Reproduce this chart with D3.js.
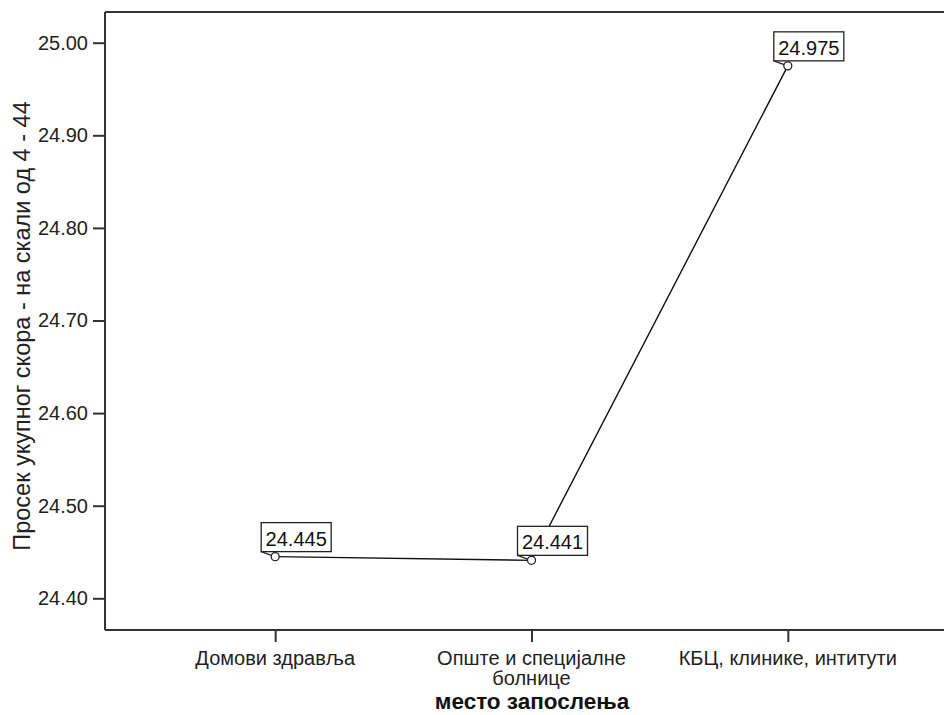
<!DOCTYPE html>
<html>
<head>
<meta charset="utf-8">
<script src="https://cdn.jsdelivr.net/npm/d3@7"></script>
<style>
  html, body { margin: 0; padding: 0; background: #fff; }
  svg { display: block; font-family: "Liberation Sans", Arial, sans-serif; }
</style>
</head>
<body>
<svg id="chart" width="944" height="715"></svg>
<script>
// Mean total score by workplace
const categories = [
  ["Домови здравља"],
  ["Опште и специјалне", "болнице"],
  ["КБЦ, клинике, интитути"]
];
const means = [24.445, 24.441, 24.975];
const yTicks = [24.40, 24.50, 24.60, 24.70, 24.80, 24.90, 25.00];
const yTitle = "Просек укупног скора - на скали од 4 - 44";
const xTitle = "место запослења";

const svg = d3.select("#chart");
const plotLeft = 105, plotTop = 12, plotRight = 958, plotBottom = 630;
const axisColor = "#333";

const keys = categories.map(c => c.join(" "));
const x = d3.scalePoint().domain(keys).range([plotLeft, plotRight]).padding(0.664);
const y = d3.scaleLinear().domain([24.40, 25.00]).range([598.3, 42.7]);

// frame: top border
svg.append("line")
  .attr("x1", plotLeft).attr("x2", 944).attr("y1", plotTop).attr("y2", plotTop)
  .attr("stroke", axisColor).attr("stroke-width", 2);

// y axis
const yAxis = svg.append("g")
  .attr("transform", `translate(${plotLeft},0)`)
  .call(d3.axisLeft(y).tickValues(yTicks).tickFormat(d3.format(".2f"))
    .tickSize(12).tickPadding(5).tickSizeOuter(0));
yAxis.select(".domain").remove();
yAxis.append("line").attr("x1", 0).attr("x2", 0).attr("y1", plotTop).attr("y2", plotBottom)
  .attr("stroke", axisColor).attr("stroke-width", 2);
yAxis.selectAll(".tick line").attr("stroke", axisColor).attr("stroke-width", 2);
yAxis.selectAll(".tick text").attr("fill", "#222").style("font-size", "20px");

// x axis
const xAxis = svg.append("g")
  .attr("transform", `translate(0,${plotBottom})`)
  .call(d3.axisBottom(x).tickSize(12).tickSizeOuter(0).tickFormat(() => ""));
xAxis.select(".domain").remove();
xAxis.append("line").attr("x1", plotLeft).attr("x2", 944).attr("y1", 0).attr("y2", 0)
  .attr("stroke", axisColor).attr("stroke-width", 2);
xAxis.selectAll(".tick line").attr("stroke", axisColor).attr("stroke-width", 2);
xAxis.selectAll(".tick text").remove();
// category labels, one text per line
categories.forEach((lines, i) => {
  lines.forEach((ln, j) => {
    xAxis.append("text")
      .attr("x", x(keys[i])).attr("y", 35 + j * 20)
      .attr("text-anchor", "middle").attr("fill", "#222")
      .style("font-size", "20px")
      .text(ln);
  });
});

// axis titles
svg.append("text")
  .attr("x", 532).attr("y", 709)
  .attr("text-anchor", "middle").attr("fill", "#111")
  .style("font-size", "22.5px").style("font-weight", "bold")
  .text(xTitle);

svg.append("text")
  .attr("transform", "translate(30,326) rotate(-90)")
  .attr("text-anchor", "middle").attr("fill", "#222")
  .style("font-size", "23.5px")
  .text(yTitle);

// line through the means
const pts = means.map((v, i) => [x(keys[i]), y(v)]);
svg.append("path")
  .attr("d", d3.line()(pts))
  .attr("fill", "none").attr("stroke", "#111").attr("stroke-width", 1.4);

// value labels
const labels = svg.append("g");
means.forEach((v, i) => {
  const [px, py] = pts[i];
  const bx = px - 14, by = py - 34, bw = 70, bh = 29;
  labels.append("line")
    .attr("x1", bx).attr("y1", by + bh).attr("x2", px - 3).attr("y2", py - 1)
    .attr("stroke", "#222").attr("stroke-width", 1.2);
  labels.append("rect")
    .attr("x", bx).attr("y", by).attr("width", bw).attr("height", bh)
    .attr("fill", "#fff").attr("stroke", "#222").attr("stroke-width", 1.3);
  labels.append("text")
    .attr("x", bx + bw / 2).attr("y", by + bh - 6)
    .attr("text-anchor", "middle").attr("fill", "#111")
    .style("font-size", "20px")
    .text(d3.format(".3f")(v));
});

// point markers
svg.append("g").selectAll("circle").data(pts).join("circle")
  .attr("cx", d => d[0]).attr("cy", d => d[1]).attr("r", 4)
  .attr("fill", "#fff").attr("stroke", "#222").attr("stroke-width", 1.3);
</script>
</body>
</html>
